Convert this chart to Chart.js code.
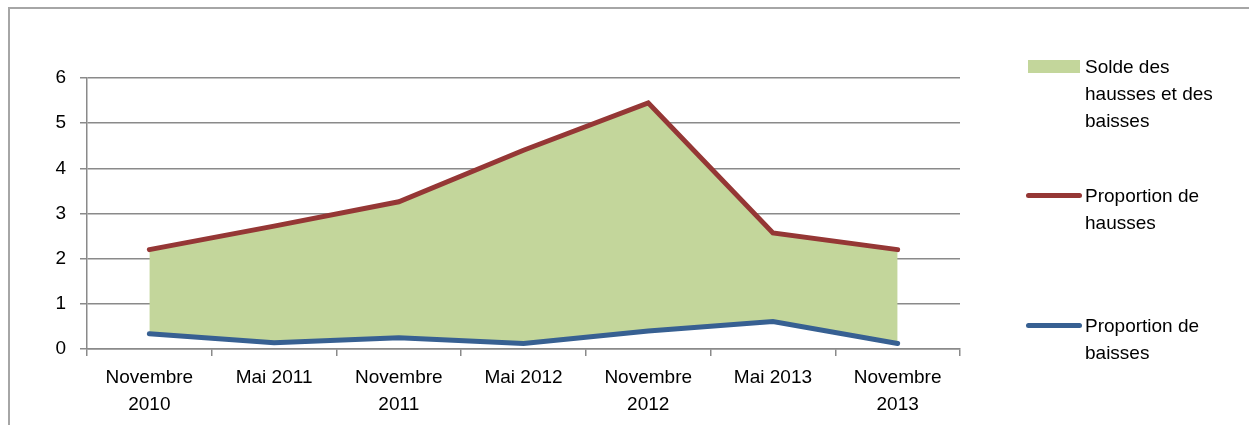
<!DOCTYPE html>
<html>
<head>
<meta charset="utf-8">
<script src="https://cdn.jsdelivr.net/npm/chart.js@4/dist/chart.umd.min.js"></script>
<style>
  html, body { margin: 0; padding: 0; background: #fff; }
  #wrap { position: relative; width: 1249px; height: 425px; overflow: hidden; }
  #chart { position: absolute; left: 0; top: 0; }
  #frame { position: absolute; left: 8px; top: 7px; width: 1300px; height: 500px;
           border-left: 2px solid #a6a6a6; border-top: 2px solid #a6a6a6; pointer-events: none; }
  .legend-item { position: absolute; left: 1024px; font: 19px "Liberation Sans", Arial, sans-serif;
                 line-height: 27px; color: #000; }
  .legend-item .swatch { position: absolute; left: 0; }
  .legend-item .txt { position: absolute; left: 61px; width: 150px; }
</style>
</head>
<body>
<div id="wrap">
  <canvas id="chart" width="1249" height="425"></canvas>
  <div id="frame"></div>
  <div id="legend"></div>
</div>
<script>
const periods = [
  ["Novembre", "2010"], "Mai 2011", ["Novembre", "2011"], "Mai 2012",
  ["Novembre", "2012"], "Mai 2013", ["Novembre", "2013"]
];
const hausses = [2.2, 2.72, 3.26, 4.4, 5.45, 2.57, 2.2];
const baisses = [0.34, 0.14, 0.25, 0.12, 0.4, 0.61, 0.12];
const yTicks = [0, 1, 2, 3, 4, 5, 6];

const GRID = "#8a8a8a";
const FONT = { family: "Liberation Sans", size: 19, lineHeight: 27 / 19 };

const ctx = document.getElementById("chart").getContext("2d");
const chart = new Chart(ctx, {
  type: "line",
  data: {
    labels: periods,
    datasets: [
      {
        label: "Solde des hausses et des baisses",
        data: hausses,
        borderWidth: 0,
        pointRadius: 0,
        backgroundColor: "#c3d69b",
        fill: { target: 2 }
      },
      {
        label: "Proportion de hausses",
        data: hausses,
        borderColor: "#953735",
        borderWidth: 5,
        borderCapStyle: "round",
        pointRadius: 0,
        fill: false
      },
      {
        label: "Proportion de baisses",
        data: baisses,
        borderColor: "#376092",
        borderWidth: 5,
        borderCapStyle: "round",
        pointRadius: 0,
        fill: false
      }
    ]
  },
  options: {
    responsive: false,
    animation: false,
    layout: { padding: { left: 0, top: 78, right: 289, bottom: 0 } },
    plugins: {
      legend: { display: false },
      tooltip: { enabled: false },
      filler: { drawTime: "beforeDatasetsDraw" }
    },
    scales: {
      x: {
        offset: true,
        grid: { offset: true, drawOnChartArea: false, drawTicks: true, tickLength: 7, color: GRID, lineWidth: 1.5 },
        border: { color: GRID, width: 1.5 },
        ticks: { color: "#000", font: FONT, padding: 8, maxRotation: 0, autoSkip: false },
        afterFit: s => { s.height = 76; }
      },
      y: {
        min: 0,
        max: 6,
        afterBuildTicks: s => { s.ticks = yTicks.map(v => ({ value: v })); },
        grid: { color: GRID, lineWidth: 1.5, tickLength: 7 },
        border: { color: GRID, width: 1.5 },
        ticks: { color: "#000", font: FONT, padding: 14 },
        afterFit: s => { s.width = 87; }
      }
    }
  }
});

// legend built from the datasets, laid out like the original (vertical, wrapped)
const legendTops = [53, 182, 312];
const legend = document.getElementById("legend");
chart.data.datasets.forEach((ds, i) => {
  const item = document.createElement("div");
  item.className = "legend-item";
  item.style.top = legendTops[i] + "px";
  const sw = document.createElement("div");
  sw.className = "swatch";
  if (i === 0) {
    Object.assign(sw.style, { left: "4px", top: "7px", width: "52px", height: "13px", background: ds.backgroundColor });
  } else {
    Object.assign(sw.style, { left: "2px", top: "11px", width: "56px", height: "5px", borderRadius: "3px", background: ds.borderColor });
  }
  const txt = document.createElement("div");
  txt.className = "txt";
  txt.textContent = ds.label;
  item.appendChild(sw);
  item.appendChild(txt);
  legend.appendChild(item);
});
</script>
</body>
</html>
